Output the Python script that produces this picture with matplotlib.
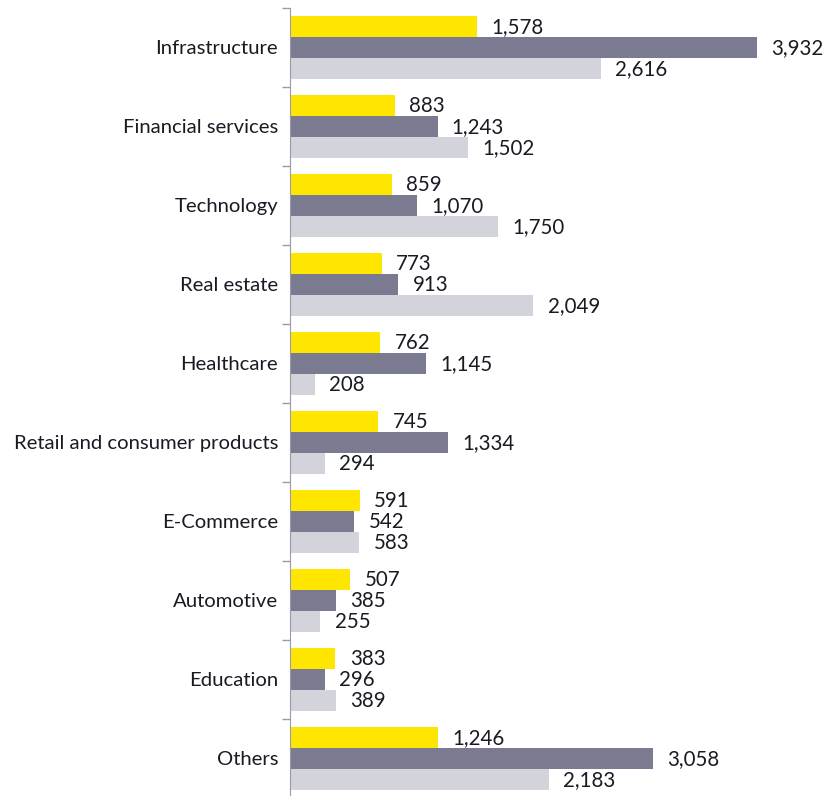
import numpy as np
import matplotlib.pyplot as plt

sectores = ['Infrastructure', 'Financial services', 'Technology', 'Real estate',
            'Healthcare', 'Retail and consumer products', 'E-Commerce',
            'Automotive', 'Education', 'Others']
serie_1 = [1578, 883, 859, 773, 762, 745, 591, 507, 383, 1246]
serie_2 = [3932, 1243, 1070, 913, 1145, 1334, 542, 385, 296, 3058]
serie_3 = [2616, 1502, 1750, 2049, 208, 294, 583, 255, 389, 2183]

colores = ['#FFE600', '#7A7A91', '#D3D3DB']

plt.rcParams['font.family'] = ['Lato', 'DejaVu Sans']

fig = plt.figure(figsize=(8.29, 7.96), dpi=100)
ax = fig.add_axes([0.3498, -0.0025, 0.6502, 0.9925])

y = np.arange(len(sectores))
h = 0.266
for k, (vals, col) in enumerate(zip([serie_1, serie_2, serie_3], colores)):
    pos = y + (k - 1) * h
    ax.barh(pos, vals, height=h, color=col, edgecolor='none')
    for p, v in zip(pos, vals):
        ax.text(v + 120, p + 0.01, f'{v:,}', va='center', ha='left',
                fontsize=14.8, color='#1a1a24')

ax.set_xlim(0, 4540)
ax.set_ylim(len(sectores) - 0.5, -0.5)
ax.set_yticks(y)
ax.set_yticklabels(sectores, fontsize=14.6, color='#1a1a24')
ax.set_yticks(np.arange(len(sectores) + 1) - 0.5, minor=True)
ax.tick_params(axis='y', which='major', length=0, pad=8.5)
ax.tick_params(axis='y', which='minor', length=6, color='#9a9aae', width=1)
ax.set_xticks([])
for s in ['top', 'right', 'bottom']:
    ax.spines[s].set_visible(False)
ax.spines['left'].set_color('#9a9aae')

fig.savefig('out.png', dpi=100)
